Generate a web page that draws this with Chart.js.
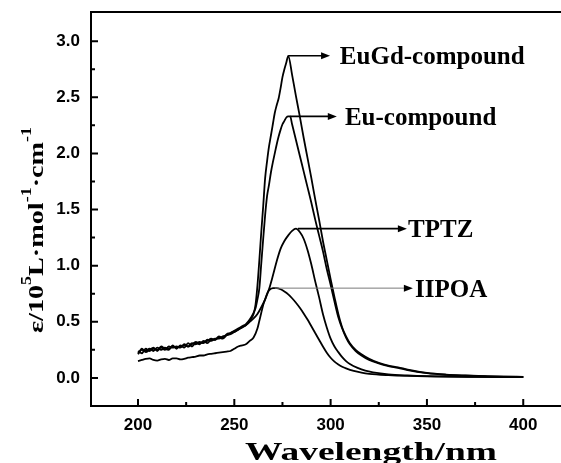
<!DOCTYPE html>
<html>
<head>
<meta charset="utf-8">
<script src="https://cdn.jsdelivr.net/npm/chart.js@4.4.1/dist/chart.umd.min.js"></script>
<style>
  html, body { margin: 0; padding: 0; background: #fff; }
  canvas { display: block; }
</style>
</head>
<body>
<canvas id="chart" width="561" height="463"></canvas>
<script>
/* ── Spectra (wavelength nm / ε in 10^5 L·mol-1·cm-1) ── */

const euGdWl = [200, 202, 204, 206, 208, 210, 212, 214, 216, 218, 220, 222, 224, 226, 228, 230, 232, 234, 236, 238,
  240, 242, 244, 246, 248, 250, 252, 254, 256, 258, 260, 261, 262, 263, 264, 265, 266, 267, 268, 269, 270, 271, 272,
  273, 274, 275, 276, 277, 278, 280, 282, 284, 286, 288, 290, 292, 294, 296, 298, 300, 302, 304, 306, 308, 310, 313,
  316, 320, 325, 330, 335, 340, 350, 360, 370, 380, 390, 400];
const euGdAbs = [0.21, 0.26, 0.23, 0.25, 0.27, 0.24, 0.28, 0.26, 0.25, 0.29, 0.26, 0.29, 0.27, 0.31, 0.28, 0.31, 0.30, 0.33, 0.31, 0.34,
  0.34, 0.36, 0.35, 0.38, 0.39, 0.41, 0.43, 0.45, 0.47, 0.51, 0.57, 0.65, 0.82, 1.05, 1.30, 1.53, 1.78, 1.93, 2.06, 2.16, 2.26, 2.36, 2.43,
  2.49, 2.58, 2.68, 2.75, 2.81, 2.87, 2.70, 2.51, 2.33, 2.14, 1.96, 1.78, 1.59, 1.41, 1.22, 1.05, 0.88, 0.72, 0.57, 0.45, 0.37, 0.31, 0.25,
  0.21, 0.17, 0.135, 0.11, 0.095, 0.075, 0.045, 0.03, 0.022, 0.016, 0.012, 0.01];

const euWl = [200, 202, 204, 206, 208, 210, 212, 214, 216, 218, 220, 222, 224, 226, 228, 230, 232, 234, 236, 238,
  240, 242, 244, 246, 248, 250, 252, 254, 256, 258, 260, 261, 262, 263, 264, 265, 266, 267, 268, 269, 270, 271, 272,
  273, 274, 275, 276, 277, 278, 279, 280, 282, 284, 286, 288, 290, 292, 294, 296, 298, 300, 302, 304, 306, 308, 310,
  313, 316, 320, 325, 330, 335, 340, 350, 360, 370, 380, 390, 400];
const euAbs = [0.24, 0.22, 0.26, 0.24, 0.26, 0.25, 0.27, 0.25, 0.28, 0.27, 0.28, 0.27, 0.30, 0.28, 0.30, 0.32, 0.31, 0.32, 0.33, 0.35,
  0.34, 0.37, 0.36, 0.39, 0.40, 0.42, 0.44, 0.46, 0.48, 0.52, 0.58, 0.62, 0.70, 0.80, 1.02, 1.24, 1.45, 1.62, 1.72, 1.83, 1.92, 2.00, 2.08,
  2.15, 2.21, 2.26, 2.29, 2.32, 2.33, 2.33, 2.26, 2.12, 1.98, 1.84, 1.70, 1.56, 1.41, 1.27, 1.13, 0.97, 0.83, 0.68, 0.54, 0.44, 0.36, 0.30,
  0.24, 0.20, 0.16, 0.13, 0.105, 0.09, 0.07, 0.043, 0.028, 0.02, 0.015, 0.011, 0.01];

const tptzWl = [200, 202, 204, 206, 208, 210, 212, 214, 216, 218, 220, 222, 224, 226, 228, 230, 232, 234, 236, 238,
  240, 242, 244, 246, 248, 250, 252, 254, 256, 258, 260, 262, 264, 266, 268, 270, 272, 274, 276, 278, 280, 282, 284,
  286, 288, 290, 292, 294, 296, 298, 300, 302, 304, 306, 308, 310, 314, 318, 322, 330, 340, 350, 375, 400];
const tptzAbs = [0.22, 0.25, 0.24, 0.26, 0.24, 0.27, 0.25, 0.27, 0.26, 0.28, 0.27, 0.28, 0.29, 0.28, 0.31, 0.30, 0.32, 0.31, 0.34, 0.33,
  0.35, 0.35, 0.37, 0.38, 0.40, 0.41, 0.43, 0.45, 0.47, 0.50, 0.53, 0.57, 0.63, 0.70, 0.79, 0.91, 1.04, 1.15, 1.22, 1.27, 1.31, 1.33, 1.30,
  1.24, 1.14, 1.01, 0.86, 0.72, 0.57, 0.45, 0.35, 0.28, 0.23, 0.185, 0.15, 0.125, 0.09, 0.065, 0.05, 0.032, 0.022, 0.016, 0.01, 0.008];

const hpoaWl = [200, 202, 204, 206, 208, 210, 212, 214, 216, 218, 220, 222, 224, 226, 228, 230, 232, 234, 236, 238,
  240, 242, 244, 246, 248, 250, 252, 254, 256, 258, 260, 262, 263, 264, 265, 266, 267, 268, 270, 272, 274, 276, 278,
  280, 282, 284, 286, 288, 290, 292, 294, 296, 298, 300, 302, 304, 306, 308, 312, 316, 320, 330, 340, 350, 375, 400];
const hpoaAbs = [0.15, 0.16, 0.17, 0.175, 0.16, 0.155, 0.165, 0.17, 0.16, 0.175, 0.175, 0.165, 0.17, 0.18, 0.185, 0.19, 0.20, 0.20, 0.21, 0.215,
  0.22, 0.225, 0.23, 0.235, 0.24, 0.26, 0.28, 0.29, 0.30, 0.33, 0.36, 0.44, 0.51, 0.58, 0.65, 0.70, 0.75, 0.78, 0.80, 0.80, 0.79, 0.77, 0.745,
  0.71, 0.67, 0.625, 0.575, 0.52, 0.46, 0.40, 0.34, 0.28, 0.225, 0.18, 0.145, 0.12, 0.10, 0.085, 0.062, 0.047, 0.037, 0.025, 0.018, 0.014, 0.01, 0.008];

const xTicks = [200, 250, 300, 350, 400];
const xMinor = [225, 275, 325, 375];
const yTicks = [0, 0.5, 1.0, 1.5, 2.0, 2.5, 3.0];
const yMinor = [0.25, 0.75, 1.25, 1.75, 2.25, 2.75];

/* ── Callouts: name, peak it points from, arrow tip x, text x ── */
const calloutNames = ['EuGd-compound', 'Eu-compound', 'TPTZ', 'IIPOA'];
const calloutFrom = [[278, 2.87], [279, 2.33], [283, 1.33], [271, 0.80]];
const calloutTip = [299.7, 303.2, 339.6, 342.7];
const calloutText = [304.8, 307.4, 340.2, 343.8];

const pts = (xs, ys) => xs.map((x, i) => ({ x, y: ys[i] }));

function series(data) {
  return {
    data,
    borderColor: '#000',
    borderWidth: 1.8,
    pointRadius: 0,
    fill: false,
    cubicInterpolationMode: 'monotone'
  };
}

const SERIF = '"Liberation Serif", "Times New Roman", serif';

const frame = {
  id: 'frame',
  afterDraw(chart) {
    const { ctx, chartArea: a, scales: { x, y } } = chart;
    ctx.save();
    ctx.strokeStyle = '#000';
    ctx.lineWidth = 2;
    ctx.beginPath();
    ctx.moveTo(a.left - 1, a.top);
    ctx.lineTo(a.right, a.top);
    xTicks.forEach(v => { const p = x.getPixelForValue(v); ctx.moveTo(p, a.bottom); ctx.lineTo(p, a.bottom - 7); });
    xMinor.forEach(v => { const p = x.getPixelForValue(v); ctx.moveTo(p, a.bottom); ctx.lineTo(p, a.bottom - 4); });
    yTicks.forEach(v => { const p = y.getPixelForValue(v); ctx.moveTo(a.left, p); ctx.lineTo(a.left + 7, p); });
    yMinor.forEach(v => { const p = y.getPixelForValue(v); ctx.moveTo(a.left, p); ctx.lineTo(a.left + 4, p); });
    ctx.stroke();

    // callouts
    calloutNames.forEach((name, i) => {
      const x0 = x.getPixelForValue(calloutFrom[i][0]);
      const py = y.getPixelForValue(calloutFrom[i][1]);
      const tip = x.getPixelForValue(calloutTip[i]);
      const thin = name === 'IIPOA';
      ctx.strokeStyle = thin ? '#7a7a7a' : '#000';
      ctx.lineWidth = thin ? 1 : 1.6;
      ctx.beginPath();
      ctx.moveTo(x0, py);
      ctx.lineTo(tip - 6, py);
      ctx.stroke();
      ctx.fillStyle = '#000';
      ctx.beginPath();
      ctx.moveTo(tip, py);
      ctx.lineTo(tip - 9, py - 3.5);
      ctx.lineTo(tip - 9, py + 3.5);
      ctx.closePath();
      ctx.fill();
      ctx.font = 'bold 25px ' + SERIF;
      ctx.textAlign = 'left';
      ctx.textBaseline = 'alphabetic';
      ctx.fillText(name, x.getPixelForValue(calloutText[i]), py + 8.5);
    });

    // x title (stretched like the original)
    ctx.font = 'bold 26px ' + SERIF;
    ctx.textAlign = 'center';
    const xt = 'Wavelength/nm';
    const sx = 252 / ctx.measureText(xt).width;
    ctx.save();
    ctx.translate(371, 460);
    ctx.scale(sx, 1);
    ctx.fillText(xt, 0, 0);
    ctx.restore();

    // y title with superscripts
    const parts = [['ε/10', 0], ['5', 1], ['L·mol', 0], ['-1', 1], ['·cm', 0], ['-1', 1]];
    const fontOf = s => s ? 'bold 14px ' + SERIF : 'bold 22px ' + SERIF;
    let total = 0;
    const widths = parts.map(([t, s]) => { ctx.font = fontOf(s); const w = ctx.measureText(t).width; total += w; return w; });
    const sy = 206 / total;
    ctx.save();
    ctx.translate(43, 230);
    ctx.rotate(-Math.PI / 2);
    ctx.scale(sy, 1);
    ctx.textAlign = 'left';
    let cx = -total / 2;
    parts.forEach(([t, s], i) => {
      ctx.font = fontOf(s);
      ctx.fillText(t, cx, s ? -12 : 0);
      cx += widths[i];
    });
    ctx.restore();
    ctx.restore();
  }
};

new Chart(document.getElementById('chart'), {
  type: 'line',
  data: {
    datasets: [
      series(pts(euGdWl, euGdAbs)),
      series(pts(euWl, euAbs)),
      series(pts(tptzWl, tptzAbs)),
      series(pts(hpoaWl, hpoaAbs))
    ]
  },
  options: {
    responsive: false,
    animation: false,
    layout: { padding: { top: 12, right: 0, left: 0, bottom: 0 } },
    plugins: { legend: { display: false }, tooltip: { enabled: false } },
    scales: {
      x: {
        type: 'linear',
        min: 175.6,
        max: 419.6,
        afterBuildTicks: s => { s.ticks = xTicks.map(v => ({ value: v })); },
        afterFit: s => { s.height = 57; s.paddingLeft = 0; s.paddingRight = 0; },
        grid: { display: false, drawTicks: false },
        border: { display: true, color: '#000', width: 2 },
        ticks: { color: '#000', padding: 9, maxRotation: 0, font: { family: '"Liberation Sans", Arial, sans-serif', size: 17, weight: 'bold' } }
      },
      y: {
        min: -0.25,
        max: 3.26,
        afterBuildTicks: s => { s.ticks = yTicks.map(v => ({ value: v })); },
        afterFit: s => { s.width = 91; s.paddingTop = 0; s.paddingBottom = 0; },
        grid: { display: false, drawTicks: false },
        border: { display: true, color: '#000', width: 2 },
        ticks: {
          color: '#000',
          padding: 11,
          callback: v => v.toFixed(1),
          font: { family: '"Liberation Sans", Arial, sans-serif', size: 17, weight: 'bold' }
        }
      }
    }
  },
  plugins: [frame]
});
</script>
</body>
</html>
